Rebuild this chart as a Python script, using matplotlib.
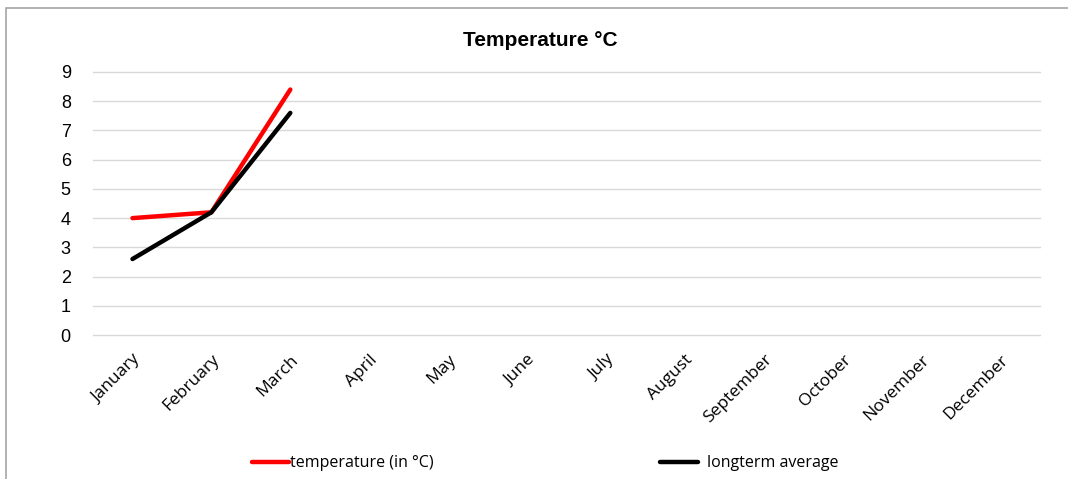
import matplotlib
matplotlib.use('Agg')
import matplotlib.pyplot as plt
from matplotlib.patches import Rectangle

months = ['January', 'February', 'March', 'April', 'May', 'June', 'July',
          'August', 'September', 'October', 'November', 'December']
temperature = [4.0, 4.2, 8.4]
longterm_avg = [2.6, 4.2, 7.6]

plt.rcParams['font.family'] = ['Liberation Sans', 'DejaVu Sans']

fig = plt.figure(figsize=(10.68, 4.79), dpi=100)
ax = fig.add_axes([0.0871, 0.3006, 0.8867, 0.5491])

# chart border (only top and left visible in the crop)
fig.patches.append(Rectangle((6 / 1068, -0.1), 1.2, 0.1 + (1 - 8 / 479),
                             transform=fig.transFigure, fill=False,
                             edgecolor='#a6a6a6', linewidth=1.2))

x = list(range(len(months)))
l1, = ax.plot(x[:len(temperature)], temperature, color='#ff0000', lw=3.2,
              solid_capstyle='round', label='temperature (in °C)')
l2, = ax.plot(x[:len(longterm_avg)], longterm_avg, color='black', lw=3.2,
              solid_capstyle='round', label='longterm average')

ax.set_xlim(-0.5, len(months) - 0.5)
ax.set_ylim(0, 9)
ax.set_yticks(range(0, 10))
ax.set_xticks(x)
ax.set_xticklabels(months, rotation=45, ha='right', rotation_mode='anchor',
                   fontsize=12.5, family=['Open Sans', 'DejaVu Sans'])
ax.tick_params(axis='y', labelsize=13, length=0, pad=16)
ax.tick_params(axis='x', length=0, pad=12)
ax.grid(axis='y', color='#d9d9d9', lw=1)
for gl in ax.get_ygridlines():
    gl.set_clip_on(False)
ax.set_axisbelow(True)
for s in ax.spines.values():
    s.set_visible(False)

fig.text(0.506, 0.915, 'Temperature °C', ha='center', va='center',
         fontsize=15, fontweight='bold')

# two legend entries placed separately (different gaps in the original)
lp = {'family': ['Open Sans', 'DejaVu Sans'], 'size': 11.5}
leg1 = fig.legend(handles=[l1], loc='center left', bbox_to_anchor=(252 / 1068, 0.033),
                  frameon=False, borderpad=0, borderaxespad=0,
                  handlelength=2.3, handletextpad=0.05, prop=lp)
fig.legend(handles=[l2], loc='center left', bbox_to_anchor=(660 / 1068, 0.033),
           frameon=False, borderpad=0, borderaxespad=0,
           handlelength=2.4, handletextpad=0.55, prop=lp)

fig.savefig('out.png', dpi=100)
